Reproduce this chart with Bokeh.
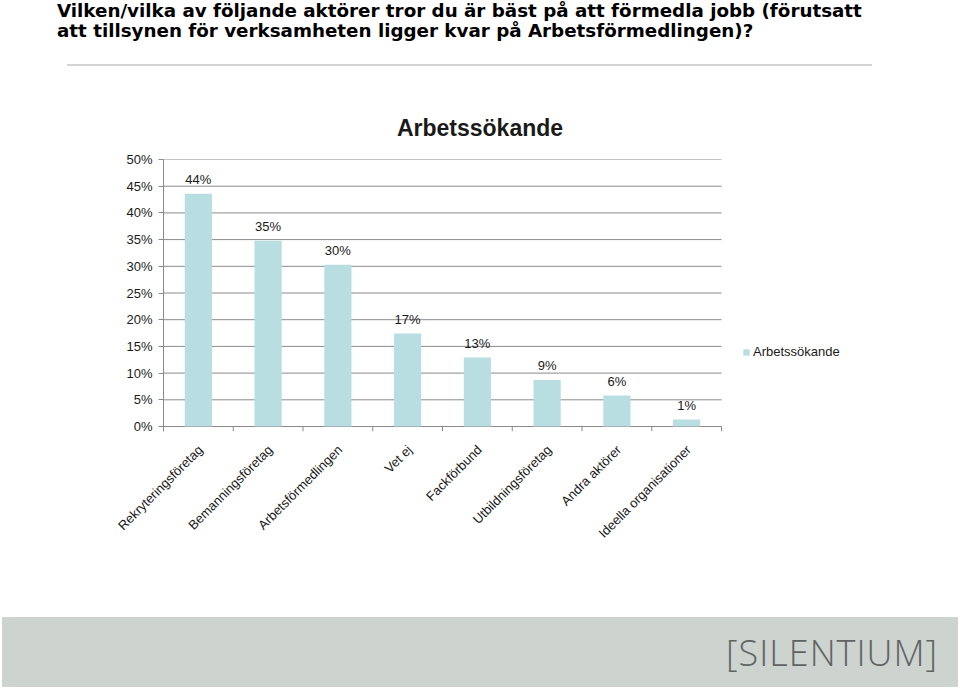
from math import pi
from bokeh.plotting import figure
from bokeh.layouts import column
from bokeh.models import (ColumnDataSource, Range1d, FixedTicker, Legend, LegendItem, Div)
from bokeh.core.properties import value
from bokeh.embed import file_html
from bokeh.resources import INLINE

question_line1 = "Vilken/vilka av följande aktörer tror du är bäst på att förmedla jobb (förutsatt"
question_line2 = "att tillsynen för verksamheten ligger kvar på Arbetsförmedlingen)?"
chart_title = "Arbetssökande"
series_name = "Arbetssökande"
categories = ["Rekryteringsföretag", "Bemanningsföretag", "Arbetsförmedlingen", "Vet ej",
              "Fackförbund", "Utbildningsföretag", "Andra aktörer", "Ideella organisationer"]
values = [43.6, 34.8, 30.3, 17.4, 12.9, 8.7, 5.8, 1.3]
value_labels = ["44%", "35%", "30%", "17%", "13%", "9%", "6%", "1%"]
y_ticks = [0, 5, 10, 15, 20, 25, 30, 35, 40, 45, 50]
brand = "[SILENTIUM]"

W = 960
H_HEAD, H_CHART, H_FOOT = 150, 467, 72
BAR = "#b9dee2"
GRID = "#8a8a8a"
TXT = "#1a1a1a"
FONT = value("Liberation Sans")

n = len(categories)
centers = [i + 0.5 for i in range(n)]
bounds = [i for i in range(1, n + 1)]

# ---------------- header ----------------
head_html = (
    f'<div style="position:relative;width:{W}px;height:{H_HEAD}px;margin:0;padding:0;">'
    '<div style="position:absolute;left:57px;top:1px;white-space:nowrap;'
    "font-family:'DejaVu Sans';font-weight:bold;font-size:18.3px;line-height:20px;color:#000;\">"
    f'{question_line1}<br>{question_line2}</div>'
    '<div style="position:absolute;left:67px;top:64px;width:805px;height:2px;background:#d4d4d4;"></div>'
    f'<div style="position:absolute;left:0;top:117px;width:{W}px;text-align:center;white-space:nowrap;'
    "font-family:'Liberation Sans';font-weight:bold;font-size:23px;line-height:23px;color:#1a1a1a;\">"
    f'{chart_title}</div>'
    '</div>'
)
head = Div(text=head_html, width=W, height=H_HEAD, margin=0)

# ---------------- chart ----------------
BL, BR, BT = 163, 15, 9
frame_bottom = 281          # local canvas y of frame bottom
BB = H_CHART - frame_bottom
px_per_cat = 69.75
x_end = (W - BL - BR) / px_per_cat
y_low = -5 / 5.34

src = ColumnDataSource(dict(x=centers, val=values, lbl=value_labels))

p = figure(width=W, height=H_CHART, output_backend="svg", toolbar_location=None,
           x_range=Range1d(0, x_end), y_range=Range1d(y_low, 50),
           min_border_left=BL, min_border_right=BR, min_border_top=BT, min_border_bottom=BB,
           margin=0)
p.outline_line_color = None
p.grid.visible = False

p.yaxis.ticker = FixedTicker(ticks=y_ticks)
p.yaxis.major_label_overrides = {t: f"{t}%" for t in y_ticks}
p.yaxis.axis_line_color = GRID
p.yaxis.major_tick_line_color = GRID
p.yaxis.major_tick_out = 5
p.yaxis.major_tick_in = 0
p.yaxis.minor_tick_line_color = None
p.yaxis.major_label_text_font = "Liberation Sans"
p.yaxis.major_label_text_font_size = "13px"
p.yaxis.major_label_text_color = TXT
p.yaxis.major_label_standoff = 6

label_pos = [c + 0.03 for c in centers]
p.xaxis.ticker = FixedTicker(ticks=label_pos, minor_ticks=[])
p.xaxis.major_label_overrides = {pos: cat for pos, cat in zip(label_pos, categories)}
p.xaxis.axis_line_color = None
p.xaxis.major_tick_line_color = None
p.xaxis.minor_tick_line_color = None
p.xaxis.major_label_orientation = pi / 4
p.xaxis.major_label_text_font = "Liberation Sans"
p.xaxis.major_label_text_font_size = "13px"
p.xaxis.major_label_text_color = TXT
p.xaxis.major_label_standoff = 10

# horizontal gridlines (only across the category area) and category boundary ticks
p.segment(x0=[0] * len(y_ticks), y0=y_ticks, x1=[n] * len(y_ticks), y1=y_ticks,
          line_color=GRID, line_width=1)
p.segment(x0=bounds, y0=[0] * n, x1=bounds, y1=[y_low] * n, line_color=GRID, line_width=1)

bars = p.vbar(x="x", top="val", width=0.39, source=src, fill_color=BAR, line_color=None)
p.text(x="x", y="val", text="lbl", source=src, y_offset=-7, text_align="center",
       text_baseline="bottom", text_font=FONT, text_font_size="13px", text_color=TXT)

legend = Legend(items=[LegendItem(label=series_name, renderers=[bars])],
                location=(742 - BL, frame_bottom - (359 - H_HEAD)), orientation="vertical",
                border_line_color=None, background_fill_alpha=0,
                padding=0, margin=0, spacing=0,
                glyph_width=8, glyph_height=8, label_standoff=3,
                label_text_font="Liberation Sans", label_text_font_size="13px",
                label_text_color=TXT)
p.add_layout(legend)

# ---------------- footer ----------------
foot_html = (
    f'<div style="position:relative;width:{W}px;height:{H_FOOT}px;margin:0;padding:0;">'
    '<div style="position:absolute;left:2px;top:0;width:956px;height:70px;background:#cdd3cf;"></div>'
    '<div style="position:absolute;right:22px;top:18px;white-space:nowrap;letter-spacing:1px;'
    "font-family:'Open Sans';font-weight:300;font-size:36px;line-height:36px;color:#5f6462;\">"
    f'{brand}</div>'
    '</div>'
)
foot = Div(text=foot_html, width=W, height=H_FOOT, margin=0)

layout = column(head, p, foot, spacing=0, margin=0)
open("out.html", "w").write(file_html(layout, INLINE))
